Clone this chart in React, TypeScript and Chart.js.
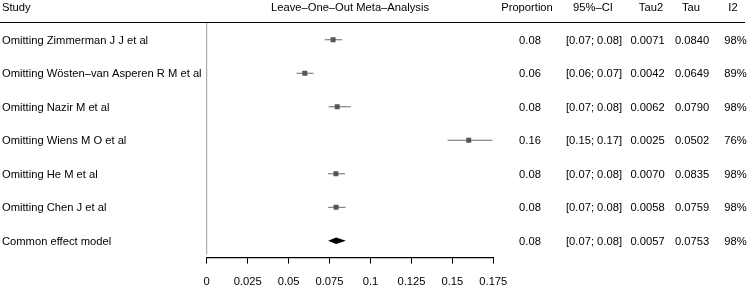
import React, { useEffect, useRef } from "react";
import { Chart, registerables } from "chart.js";

Chart.register(...registerables);

const categories = [
  "Omitting Zimmerman J J et al",
  "Omitting Wösten–van Asperen R M et al",
  "Omitting Nazir M et al",
  "Omitting Wiens M O et al",
  "Omitting He M et al",
  "Omitting Chen J et al",
  "Common effect model",
];
const estimates = [0.0772, 0.0599, 0.0797, 0.16, 0.0789, 0.079, 0.079];
const ciLow = [0.0721, 0.0549, 0.0744, 0.1471, 0.074, 0.0742, 0.0742];
const ciHigh = [0.0827, 0.0652, 0.088, 0.1745, 0.0845, 0.0848, 0.085];
const proportionText = ["0.08", "0.06", "0.08", "0.16", "0.08", "0.08", "0.08"];
const ciText = [
  "[0.07; 0.08]",
  "[0.06; 0.07]",
  "[0.07; 0.08]",
  "[0.15; 0.17]",
  "[0.07; 0.08]",
  "[0.07; 0.08]",
  "[0.07; 0.08]",
];
const tau2Text = ["0.0071", "0.0042", "0.0062", "0.0025", "0.0070", "0.0058", "0.0057"];
const tauText = ["0.0840", "0.0649", "0.0790", "0.0502", "0.0835", "0.0759", "0.0753"];
const i2Text = ["98%", "89%", "98%", "76%", "98%", "98%", "98%"];
const tickValues = [0, 0.025, 0.05, 0.075, 0.1, 0.125, 0.15, 0.175];
const tickLabels = ["0", "0.025", "0.05", "0.075", "0.1", "0.125", "0.15", "0.175"];
const headers = {
  study: "Study",
  plot: "Leave–One–Out Meta–Analysis",
  proportion: "Proportion",
  ci: "95%–CI",
  tau2: "Tau2",
  tau: "Tau",
  i2: "I2",
};

const FONT = "'Liberation Sans', Arial, sans-serif";

export default function App() {
  const ref = useRef<HTMLCanvasElement | null>(null);

  useEffect(() => {
    document.body.style.margin = "0";
    const canvas = ref.current;
    if (!canvas) return;
    const n = categories.length;
    const studyIdx = categories.map((_, i) => i).slice(0, n - 1);

    const lineSets = studyIdx.map((i) => ({
      type: "scatter" as const,
      data: [
        { x: ciLow[i], y: i + 1 },
        { x: ciHigh[i], y: i + 1 },
      ],
      showLine: true,
      borderColor: "#6a6a6a",
      borderWidth: 1,
      pointRadius: 0,
      order: 2,
    }));

    const pointSet = {
      type: "scatter" as const,
      data: studyIdx.map((i) => ({ x: estimates[i], y: i + 1 })),
      pointStyle: "rect",
      pointRadius: 3.5,
      backgroundColor: "#555555",
      borderColor: "#555555",
      borderWidth: 0,
      order: 1,
    };

    const textPlugin = {
      id: "forestText",
      afterDraw(chart: any) {
        const ctx = chart.ctx;
        const xs = chart.scales.x;
        const ys = chart.scales.y;
        const area = chart.chartArea;
        ctx.save();
        const di = n - 1;
        const dy = ys.getPixelForValue(di + 1);
        const xl = xs.getPixelForValue(ciLow[di]);
        const xr = xs.getPixelForValue(ciHigh[di]);
        const xc = xs.getPixelForValue(estimates[di]);
        ctx.fillStyle = "#000";
        ctx.beginPath();
        ctx.moveTo(xl, dy);
        ctx.lineTo(xc, dy - 3.2);
        ctx.lineTo(xr, dy);
        ctx.lineTo(xc, dy + 3.2);
        ctx.closePath();
        ctx.fill();

        ctx.strokeStyle = "#9a9a9a";
        ctx.lineWidth = 1;
        ctx.beginPath();
        ctx.moveTo(area.left, area.top);
        ctx.lineTo(area.left, area.bottom - 3);
        ctx.stroke();

        ctx.strokeStyle = "#000";
        ctx.lineWidth = 1.2;
        ctx.beginPath();
        ctx.moveTo(0, 22.5);
        ctx.lineTo(745, 22.5);
        ctx.stroke();

        ctx.fillStyle = "#000";
        ctx.font = `11.2px ${FONT}`;
        ctx.textBaseline = "middle";
        const hy = 8;
        ctx.textAlign = "left";
        ctx.fillText(headers.study, 2, hy);
        ctx.textAlign = "center";
        ctx.fillText(headers.plot, (area.left + area.right) / 2, hy);
        ctx.fillText(headers.proportion, 527, hy);
        ctx.fillText(headers.ci, 593, hy);
        ctx.fillText(headers.tau2, 651, hy);
        ctx.fillText(headers.tau, 691, hy);
        ctx.fillText(headers.i2, 733, hy);

        categories.forEach((c, i) => {
          const y = ys.getPixelForValue(i + 1) + 1;
          ctx.textAlign = "left";
          ctx.fillText(c, 2, y);
          ctx.textAlign = "center";
          ctx.fillText(proportionText[i], 530, y);
          ctx.fillText(ciText[i], 594, y);
          ctx.fillText(tau2Text[i], 647.5, y);
          ctx.fillText(tauText[i], 692, y);
          ctx.fillText(i2Text[i], 735.5, y);
        });
        ctx.restore();
      },
    };

    const chart = new Chart(canvas, {
      type: "scatter",
      data: { datasets: [...lineSets, pointSet] as any },
      options: {
        animation: false,
        responsive: false,
        maintainAspectRatio: false,
        events: [],
        layout: { padding: { left: 206.7, right: 256.7, top: 23, bottom: -13 } },
        plugins: { legend: { display: false }, tooltip: { enabled: false } },
        scales: {
          x: {
            type: "linear",
            min: 0,
            max: 0.175,
            afterBuildTicks: (scale: any) => {
              scale.ticks = tickValues.map((v) => ({ value: v }));
            },
            grid: {
              display: true,
              drawOnChartArea: false,
              drawTicks: true,
              tickLength: 6,
              color: "#000",
              lineWidth: 1,
            },
            border: { display: true, color: "#000", width: 1.2 },
            ticks: {
              autoSkip: false,
              maxRotation: 0,
              padding: 11.5,
              color: "#000",
              font: { family: FONT, size: 11.2 },
              callback: (_v: any, idx: number) => tickLabels[idx],
            },
          },
          y: {
            type: "linear",
            display: false,
            reverse: true,
            min: 0.5,
            max: categories.length + 0.5,
          },
        },
      },
      plugins: [textPlugin],
    });
    return () => chart.destroy();
  }, []);

  return (
    <div style={{ width: 750, height: 287 }}>
      <canvas ref={ref} width={750} height={287} style={{ display: "block", width: 750, height: 287 }} />
    </div>
  );
}
